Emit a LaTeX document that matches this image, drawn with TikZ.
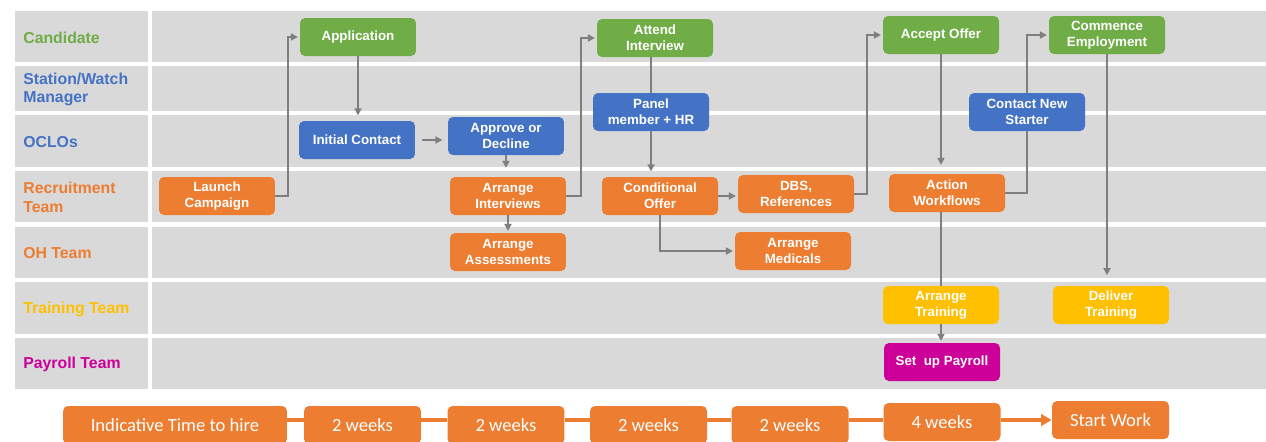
\documentclass[tikz,border=0pt]{standalone}
\usepackage{fontspec}
\setmainfont{Liberation Sans}
\newfontfamily\calfont{Carlito}
\usetikzlibrary{arrows.meta,positioning}
\definecolor{lanegray}{HTML}{D9D9D9}
\definecolor{cgreen}{HTML}{70AD47}
\definecolor{cblue}{HTML}{4472C4}
\definecolor{corange}{HTML}{ED7D31}
\definecolor{cyellow}{HTML}{FFC000}
\definecolor{cmagenta}{HTML}{CC0099}
\definecolor{linegray}{HTML}{7F7F7F}

\begin{document}
\begin{tikzpicture}[x=0.02cm,y=-0.02cm,
task/.style={rounded corners=1mm,text=white,align=center,minimum width=2.32cm,minimum height=0.76cm,inner sep=1pt,font=\fontsize{7.6}{9}\selectfont\bfseries},
gtask/.style={task,fill=cgreen},
btask/.style={task,fill=cblue},
otask/.style={task,fill=corange},
ytask/.style={task,fill=cyellow},
mtask/.style={task,fill=cmagenta},
lanelabel/.style={anchor=west,align=left,inner sep=0pt,font=\fontsize{9}{10.6}\selectfont\bfseries},
week/.style={fill=corange,rounded corners=1mm,text=white,minimum width=2.34cm,minimum height=0.76cm,inner sep=1pt,font=\calfont\fontsize{10.6}{12}\selectfont},
arr/.style={-{Triangle[length=4pt,width=4pt]},line width=1.3pt,draw=linegray,shorten >=1pt},
link/.style={line width=1.3pt,draw=linegray},
tl/.style={line width=1.8pt,draw=corange}
]
\useasboundingbox (0,0) rectangle (1266,441);
\clip (0,0) rectangle (1266,441);

% swim lanes
\foreach \ya/\yb/\lbl/\col [count=\i] in {11/62/{Candidate}/cgreen,66/111/{Station/Watch\\Manager}/cblue,115/167/{OCLOs}/cblue,171/222/{Recruitment\\Team}/corange,227/278/{OH Team}/corange,282/334/{Training Team}/cyellow,338/389/{Payroll Team}/cmagenta}{
  \fill[lanegray] (15,\ya) rectangle (148,\yb);
  \fill[lanegray] (152,\ya) rectangle (1266,\yb);
  \node[lanelabel,text=\col] (lane\i) at (23,{(\ya+\yb)/2+1}) {\lbl};
}

% tasks
\node[otask] (launch) at (217,196) {Launch\\Campaign};
\node[gtask] (appl) at (358,37) {Application};
\node[btask] (initial) at (357,140) {Initial Contact};
\node[btask] (approve) at (506,136) {Approve or\\Decline};
\node[otask] (arrint) at (508,196) {Arrange\\Interviews};
\node[otask] (arrass) at (508,252) {Arrange\\Assessments};
\node[gtask] (attend) at (655,38) {Attend\\Interview};
\node[btask] (panel) at (651,112) {Panel\\member + HR};
\node[otask] (condoffer) at (660,196) {Conditional\\Offer};
\node[otask] (dbs) at (796,194) {DBS,\\References};
\node[otask] (arrmed) at (793,251) {Arrange\\Medicals};
\node[gtask] (accept) at (941,35) {Accept Offer};
\node[otask] (workflows) at (947,193) {Action\\Workflows};
\node[btask] (contact) at (1027,112) {Contact New\\Starter};
\node[gtask] (commence) at (1107,35) {Commence\\Employment};
\node[ytask] (arrtrain) at (941,305) {Arrange\\Training};
\node[ytask] (deliver) at (1111,305) {Deliver\\Training};
\node[mtask] (payroll) at (942,362) {Set~ up Payroll};

% connectors
\draw[arr] (launch.east)--++(13,0)|-(appl.west);
\draw[arr,shorten >=3pt] (appl.south)--(appl.south|-initial.north);
\draw[arr,shorten <=4pt,shorten >=3pt] (initial.east)--(initial.east-|approve.west);
\draw[arr,shorten >=5pt] (approve.south)--(approve.south|-arrint.north);
\draw[arr] (arrint.east)--++(15,0)|-(attend.west);
\draw[arr] (arrint)--(arrass);
\draw[link] (panel.north|-attend.south)--(panel.north);
\draw[arr,shorten >=3pt] (panel.south)--(panel.south|-condoffer.north);
\draw[arr] (condoffer.east)--(condoffer.east-|dbs.west);
\draw[arr] (condoffer.south)|-(arrmed.west);
\draw[arr] (dbs.east)--++(13,0)|-(accept.west);
\draw[arr,shorten >=5pt] (accept.south)--(accept.south|-workflows.north);
\draw[link] (workflows.east)-|(contact.south);
\draw[arr] (contact.north)|-(commence.west);
\draw[arr,shorten >=6pt] (commence.south)--(commence.south|-deliver.north);
\draw[link] (arrtrain.north|-workflows.south)--(arrtrain.north);
\draw[arr] (arrtrain.south)--(arrtrain.south|-payroll.north);

% time line
\node[week,minimum width=4.48cm] (hire) at (175,425) {Indicative Time to hire};
\node[week] (w1) at (362.5,425) {2 weeks};
\node[week] (w2) at (506,425) {2 weeks};
\node[week] (w3) at (648.5,425) {2 weeks};
\node[week] (w4) at (790,425) {2 weeks};
\node[week] (w5) at (942,422) {4 weeks};
\node[week] (start) at (1110.5,420) {Start Work};
\draw[tl] (hire.east|-start.west)--(w1.west|-start.west);
\draw[tl] (w1.east|-start.west)--(w2.west|-start.west);
\draw[tl] (w2.east|-start.west)--(w3.west|-start.west);
\draw[tl] (w3.east|-start.west)--(w4.west|-start.west);
\draw[tl] (w4.east|-start.west)--(w5.west|-start.west);
\draw[tl,-{Triangle[length=6pt,width=6.5pt]}] (w5.east|-start.west)--(start.west);
\end{tikzpicture}
\end{document}
